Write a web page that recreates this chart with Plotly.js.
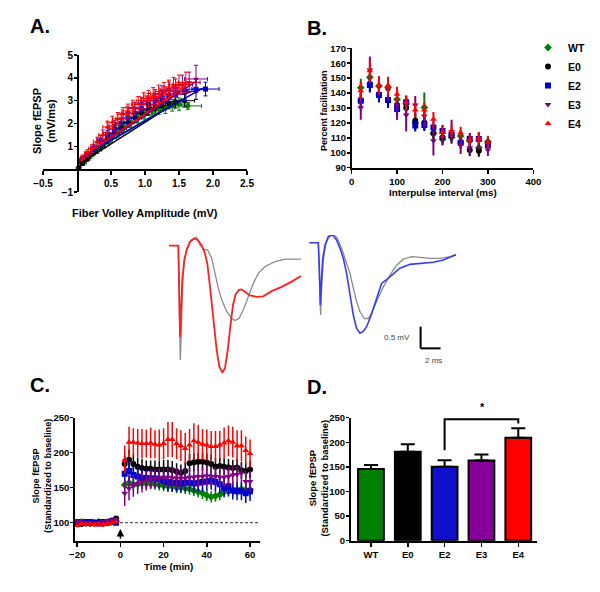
<!DOCTYPE html>
<html>
<head>
<meta charset="utf-8">
<script src="https://cdn.plot.ly/plotly-3.0.1.min.js"></script>
<style>html,body{margin:0;padding:0;background:#fff;}#chart{width:600px;height:592px;}</style>
</head>
<body>
<div id="chart"></div>
<script>
// ---------------- DATA ----------------
var groups = ['WT', 'E0', 'E2', 'E3', 'E4'];

// Panel A: input-output (fiber volley amplitude vs slope)
var aWT_x  = [0.02,0.10,0.20,0.30,0.40,0.50,0.60,0.70,0.80,0.90,1.00,1.10,1.20,1.30,1.40,1.50,1.63];
var aWT_y  = [0.05,0.30,0.60,0.85,1.10,1.35,1.60,1.85,2.05,2.25,2.40,2.55,2.65,2.70,2.80,2.85,2.77];
var aWT_xe = [0.02,0.04,0.05,0.06,0.07,0.08,0.08,0.09,0.10,0.10,0.11,0.12,0.12,0.13,0.14,0.15,0.20];
var aWT_ye = [0.05,0.10,0.12,0.15,0.17,0.18,0.20,0.20,0.22,0.22,0.24,0.25,0.25,0.26,0.26,0.27,0.15];
var aE0_x  = [0.03,0.08,0.15,0.25,0.35,0.45,0.55,0.65,0.75,0.85,0.95,1.05,1.15,1.25,1.35,1.45,1.58];
var aE0_y  = [0.10,0.25,0.45,0.75,1.00,1.30,1.55,1.80,2.05,2.25,2.45,2.60,2.70,2.80,2.90,2.95,3.00];
var aE0_xe = [0.02,0.03,0.04,0.05,0.06,0.07,0.08,0.08,0.09,0.10,0.10,0.11,0.12,0.12,0.13,0.14,0.15];
var aE0_ye = [0.05,0.08,0.10,0.12,0.15,0.17,0.18,0.20,0.20,0.22,0.22,0.24,0.25,0.25,0.26,0.27,0.28];
var aE2_x  = [0.06,0.15,0.25,0.35,0.45,0.55,0.65,0.75,0.85,0.95,1.05,1.15,1.25,1.35,1.45,1.60,1.75,1.89];
var aE2_y  = [0.35,0.60,0.90,1.20,1.50,1.75,2.00,2.25,2.45,2.65,2.85,3.00,3.10,3.20,3.30,3.40,3.50,3.51];
var aE2_xe = [0.03,0.04,0.05,0.06,0.07,0.08,0.08,0.09,0.10,0.10,0.11,0.12,0.12,0.13,0.14,0.15,0.17,0.20];
var aE2_ye = [0.10,0.12,0.15,0.17,0.20,0.22,0.24,0.25,0.27,0.28,0.30,0.30,0.32,0.33,0.35,0.40,0.45,0.30];
var aE3_x  = [0.07,0.15,0.25,0.35,0.45,0.55,0.65,0.75,0.85,0.95,1.05,1.15,1.25,1.35,1.45,1.55,1.65,1.75];
var aE3_y  = [0.40,0.65,0.95,1.30,1.60,1.90,2.20,2.45,2.65,2.85,3.00,3.15,3.30,3.45,3.55,3.70,3.80,3.95];
var aE3_xe = [0.03,0.04,0.05,0.06,0.07,0.08,0.08,0.09,0.10,0.10,0.11,0.12,0.12,0.13,0.14,0.15,0.16,0.17];
var aE3_ye = [0.10,0.12,0.15,0.18,0.20,0.22,0.25,0.27,0.28,0.30,0.32,0.33,0.35,0.37,0.40,0.42,0.45,0.60];
var aE4_x  = [0.08,0.15,0.22,0.30,0.38,0.45,0.52,0.60,0.68,0.75,0.82,0.90,0.98,1.05,1.12,1.20,1.28,1.35,1.42,1.50,1.60];
var aE4_y  = [0.50,0.70,0.90,1.20,1.50,1.85,2.05,2.20,2.40,2.55,2.70,2.85,3.00,3.10,3.20,3.30,3.40,3.50,3.60,3.70,3.80];
var aE4_xe = [0.03,0.04,0.05,0.06,0.06,0.07,0.08,0.08,0.09,0.09,0.10,0.10,0.11,0.11,0.12,0.12,0.13,0.13,0.14,0.14,0.15];
var aE4_ye = [0.12,0.15,0.17,0.20,0.22,0.25,0.27,0.28,0.30,0.30,0.32,0.33,0.35,0.35,0.37,0.38,0.40,0.40,0.42,0.42,0.45];
// linear fits (end points)
var fitWT_x = [0.00, 1.55], fitWT_y = [0.40, 3.10];
var fitE0_x = [0.05, 1.50], fitE0_y = [0.25, 3.00];
var fitE2_x = [0.05, 1.85], fitE2_y = [0.50, 3.55];
var fitE3_x = [0.05, 1.75], fitE3_y = [0.45, 3.85];
var fitE4_x = [0.05, 1.60], fitE4_y = [0.50, 3.65];

// Panel B: paired-pulse facilitation
var ipi  = [20,40,60,80,100,120,140,160,180,200,220,240,260,280,300];
var bWT  = [143.6,150.6,144.7,143.9,135.8,133.0,120.0,130.4,113.0,109.0,110.3,111.2,108.0,103.4,107.4];
var bWTe = [6,5,4,5,4,5,5,10,5,4,4,4,4,4,4];
var bE0  = [135.0,146.0,139.0,135.0,132.0,130.2,121.5,120.2,113.0,110.3,112.0,107.0,101.8,101.4,106.3];
var bE0e = [5,5,4,5,4,5,5,5,5,4,4,4,4,4,4];
var bE2  = [134.9,145.4,138.7,135.4,129.3,133.8,118.2,118.6,117.0,114.6,111.9,106.8,109.2,109.2,105.2];
var bE2e = [5,5,5,5,5,4,4,4,4,4,4,4,4,4,4];
var bE3  = [130.2,155.5,144.3,142.0,132.0,125.3,132.0,124.6,108.1,110.0,114.1,105.2,103.4,108.0,101.8];
var bE3e = [8,9,6,7,10,11,6,7,10,5,8,6,5,6,4];
var bE4  = [141.6,155.0,145.4,145.0,139.2,133.6,128.7,128.7,122.4,113.7,114.6,113.5,108.5,109.7,107.0];
var bE4e = [6,7,6,6,5,5,5,5,5,4,4,4,4,4,4];

// Example field potentials (time in ms, voltage in mV)
var trE4_t   = [0,0.93,1.03,1.10,1.20,1.33,1.53,1.77,2.10,2.53,2.93,3.33,3.60,3.83,4.10,4.43,4.77,5.03,5.33,5.60,5.87,6.13,6.40,6.67,7.00,7.27,7.60,8.10,8.77,9.43,10.27,11.27,12.27,13.20];
var trE4_v   = [0,0,-1.18,-2.10,-1.56,-0.79,-0.33,-0.10,0.09,0.17,0.12,-0.02,-0.18,-0.41,-0.95,-1.72,-2.41,-2.79,-2.93,-2.83,-2.41,-1.87,-1.37,-1.12,-1.02,-1.01,-1.06,-1.15,-1.18,-1.17,-1.05,-0.95,-0.83,-0.70];
var trWTa_t  = [0.93,1.07,1.13,1.23,1.37,1.53,1.80,2.20,2.77,3.10,3.43,3.87,4.27,4.60,4.93,5.27,5.77,6.27,6.60,7.00,7.43,7.93,8.43,8.93,9.60,10.60,11.60,13.20];
var trWTa_v  = [0,-1.56,-2.64,-1.95,-0.79,-0.33,-0.06,0.13,0.19,0.02,-0.08,-0.10,-0.29,-0.64,-0.98,-1.25,-1.52,-1.68,-1.73,-1.68,-1.48,-1.18,-0.87,-0.64,-0.48,-0.37,-0.31,-0.31];
var trE2_t   = [0,0.90,1.00,1.10,1.20,1.33,1.57,1.90,2.33,2.73,3.07,3.40,3.73,4.07,4.40,4.73,5.07,5.40,5.73,6.13,6.57,6.97,7.23,7.73,8.40,9.07,10.07,11.07,12.40,13.40,14.67];
var trE2_v   = [0,0,-0.55,-1.44,-0.94,-0.40,-0.05,0.14,0.18,0.06,-0.13,-0.36,-0.71,-1.17,-1.67,-1.98,-2.09,-2.05,-1.94,-1.71,-1.40,-1.13,-0.94,-0.85,-0.71,-0.59,-0.50,-0.48,-0.45,-0.40,-0.28];
var trWTb_t  = [0.90,1.00,1.13,1.23,1.40,1.67,2.07,2.40,2.80,3.23,3.73,4.07,4.40,4.73,5.07,5.50,5.90,6.23,6.73,7.40,8.07,8.73,9.40,10.23,11.07,12.07,13.07,14.07,14.67];
var trWTb_v  = [0,-0.86,-1.67,-1.09,-0.40,-0.02,0.18,0.22,0.10,-0.13,-0.48,-0.71,-1.05,-1.36,-1.59,-1.75,-1.75,-1.63,-1.36,-1.02,-0.75,-0.52,-0.38,-0.32,-0.34,-0.36,-0.36,-0.32,-0.27];
var scaleBarMs = 2, scaleBarMv = 0.5;

// Panel C: LTP time course
var tBase = [-20,-18,-16,-14,-12,-10,-8,-6,-4,-2];
var tPost = [2,4,6,8,10,12,14,16,18,20,22,24,26,28,30,32,34,36,38,40,42,44,46,48,50,52,54,56,58,60];
var cWT_base = [100,101,100,99,100,101,100,100,101,102];
var cE0_base = [99,98,99,99,100,101,99,101,103,106];
var cE2_base = [101,100,101,101,100,99,101,100,102,100];
var cE3_base = [102,101,100,100,99,100,101,103,104,104];
var cE4_base = [96,99,98,98,97,98,97,99,100,102];
var cBase_err = [3,3,3,3,3,3,3,3,3,3];
var cWT  = [154,157,154,155,156,156,156,155,154,153,152,152,150,150,149,148,146,144,142,139,137,138,140,144,145,146,147,148,147,147];
var cWTe = [8,9,8,8,8,8,8,8,8,8,8,8,8,8,8,8,8,8,8,8,8,8,8,8,8,8,8,8,8,8];
var cE0  = [184,190,184,180,178,177,177,176,176,176,176,175,173,171,174,185,186,187,187,186,184,180,181,180,179,178,179,175,174,176];
var cE0e = [13,15,14,13,13,12,12,13,13,14,14,13,12,12,12,13,13,13,13,13,13,12,12,12,12,12,12,12,12,12];
var cE2  = [170,174,168,166,164,164,163,163,162,160,158,157,157,156,157,157,156,157,158,159,160,158,155,150,152,146,145,145,142,145];
var cE2e = [15,15,14,14,13,13,13,13,13,13,13,13,13,13,13,13,13,13,13,13,13,13,13,13,13,13,13,13,14,14];
var cE3  = [142,149,153,156,158,160,162,163,164,165,165,164,164,163,164,165,165,166,166,167,166,166,165,165,166,168,169,171,159,159];
var cE3e = [18,17,16,15,15,14,14,14,14,14,14,14,14,14,14,14,14,14,14,14,14,14,14,14,14,14,14,14,15,15];
var cE4  = [190,215,215,214,213,213,214,212,211,213,219,219,213,210,206,211,217,215,212,211,209,209,211,214,217,215,210,210,203,199];
var cE4e = [20,22,20,20,21,20,22,20,22,22,25,25,22,22,22,23,25,25,22,22,22,22,20,22,22,22,22,22,20,20];

// Panel D: mean potentiation
var dMean = [145.5,181.0,150.5,163.0,209.5];
var dSem  = [8.3,15.0,12.8,12.3,19.0];
var sigPair = ['E2','E4'];
var sigBracketY = [184,247,247,238];
var sigLabel = '*';

// ---------------- STYLE ----------------
var W = 600, H = 592;
function xd(a, b) { return [a / W, b / W]; }
function yd(top, bot) { return [1 - bot / H, 1 - top / H]; }
var FONT = 'Liberation Sans, Arial, Helvetica, sans-serif';
var colors = {WT:'#008000', E0:'#000000', E2:'#0000cc', E3:'#800080', E4:'#ff0000'};
var symbols = {WT:'diamond', E0:'circle', E2:'square', E3:'triangle-down', E4:'triangle-up'};
var barColors = {WT:'#008000', E0:'#000000', E2:'#1010cc', E3:'#880099', E4:'#ff0000'};

function axisBase(extra) {
  var a = {showline:true, linecolor:'#000', linewidth:1.8, ticks:'outside', ticklen:4, tickwidth:1.5,
    tickcolor:'#000', showgrid:false, zeroline:false, fixedrange:true,
    tickfont:{family:FONT, size:9.5, color:'#000', weight:'bold'}};
  for (var k in extra) a[k] = extra[k];
  return a;
}

var traces = [];
// Panel A
var aData = {
  WT:[aWT_x,aWT_y,aWT_xe,aWT_ye,fitWT_x,fitWT_y], E0:[aE0_x,aE0_y,aE0_xe,aE0_ye,fitE0_x,fitE0_y],
  E2:[aE2_x,aE2_y,aE2_xe,aE2_ye,fitE2_x,fitE2_y], E3:[aE3_x,aE3_y,aE3_xe,aE3_ye,fitE3_x,fitE3_y],
  E4:[aE4_x,aE4_y,aE4_xe,aE4_ye,fitE4_x,fitE4_y]};
groups.forEach(function(g) {
  var d = aData[g];
  traces.push({type:'scatter', mode:'markers', x:d[0], y:d[1], xaxis:'x', yaxis:'y', showlegend:false,
    marker:{color:colors[g], symbol:symbols[g], size:5},
    error_x:{type:'data', array:d[2], color:colors[g], thickness:1, width:2},
    error_y:{type:'data', array:d[3], color:colors[g], thickness:1, width:2}, hoverinfo:'skip'});
});
groups.forEach(function(g) {
  var d = aData[g];
  traces.push({type:'scatter', mode:'lines', x:d[4], y:d[5], xaxis:'x', yaxis:'y', showlegend:false,
    line:{color:colors[g], width:1.5}, hoverinfo:'skip'});
});
// Panel B
var bData = {WT:[bWT,bWTe], E0:[bE0,bE0e], E2:[bE2,bE2e], E3:[bE3,bE3e], E4:[bE4,bE4e]};
groups.forEach(function(g) {
  traces.push({type:'scatter', mode:'markers', name:g, x:ipi, y:bData[g][0], xaxis:'x2', yaxis:'y2',
    marker:{color:colors[g], symbol:symbols[g], size:6},
    error_y:{type:'data', array:bData[g][1], color:colors[g], thickness:2, width:0}});
});
// Traces
traces.push({type:'scatter', mode:'lines', x:trWTa_t, y:trWTa_v, xaxis:'x3', yaxis:'y3', showlegend:false, line:{color:'#8c8c8c', width:1.3}, hoverinfo:'skip'});
traces.push({type:'scatter', mode:'lines', x:trE4_t, y:trE4_v, xaxis:'x3', yaxis:'y3', showlegend:false, line:{color:'#ff2020', width:1.8}, hoverinfo:'skip'});
traces.push({type:'scatter', mode:'lines', x:trWTb_t, y:trWTb_v, xaxis:'x4', yaxis:'y4', showlegend:false, line:{color:'#8c8c8c', width:1.3}, hoverinfo:'skip'});
traces.push({type:'scatter', mode:'lines', x:trE2_t, y:trE2_v, xaxis:'x4', yaxis:'y4', showlegend:false, line:{color:'#3a3aff', width:1.6}, hoverinfo:'skip'});
// Panel C
var cData = {WT:[cWT_base,cWT,cWTe], E0:[cE0_base,cE0,cE0e], E2:[cE2_base,cE2,cE2e], E3:[cE3_base,cE3,cE3e], E4:[cE4_base,cE4,cE4e]};
groups.forEach(function(g) {
  traces.push({type:'scatter', mode:'markers', x:tBase.concat(tPost), y:cData[g][0].concat(cData[g][1]),
    xaxis:'x5', yaxis:'y5', showlegend:false, marker:{color:colors[g], symbol:symbols[g], size:6},
    error_y:{type:'data', array:cBase_err.concat(cData[g][2]), color:colors[g], thickness:1.5, width:0}, hoverinfo:'skip'});
});
// Panel D
traces.push({type:'bar', x:groups, y:dMean, xaxis:'x6', yaxis:'y6', showlegend:false, width:0.7,
  marker:{color:groups.map(function(g){return barColors[g];}), line:{color:'#000', width:2}},
  error_y:{type:'data', array:dSem, arrayminus:dSem.map(function(){return 0;}), symmetric:false, color:'#000', thickness:2, width:7}, hoverinfo:'skip'});
traces.push({type:'scatter', mode:'lines', x:[sigPair[0],sigPair[0],sigPair[1],sigPair[1]], y:sigBracketY,
  xaxis:'x6', yaxis:'y6', showlegend:false, cliponaxis:false, line:{color:'#000', width:2}, hoverinfo:'skip'});

// axes geometry
var aY = yd(55, 192), aX = xd(43, 247);
var aXpos = aY[0] + (0 - (-1)) / 6 * (aY[1] - aY[0]);
var aYpos = aX[0] + (0 - (-0.5)) / 3 * (aX[1] - aX[0]);

function ann(text, px, py, size, opts) {
  var a = {text:text, x:px / W, y:1 - py / H, xref:'paper', yref:'paper', showarrow:false,
    font:{family:FONT, size:size, color:'#000'}, xanchor:'center', yanchor:'middle'};
  for (var k in opts) a[k] = opts[k];
  return a;
}
var annotations = [
  ann('<b>A.</b>', 40, 26, 20, {}),
  ann('<b>B.</b>', 317, 28, 20, {}),
  ann('<b>C.</b>', 40, 385, 20, {}),
  ann('<b>D.</b>', 317, 387, 20, {}),
  ann('<b>Slope fEPSP<br>(mV/ms)</b>', 44, 121, 11, {textangle:-90}),
  ann('<b>Fiber Volley Amplitude (mV)</b>', 145, 213, 11, {}),
  ann('<b>Percent facilitation</b>', 324, 111, 9, {textangle:-90}),
  ann('<b>Interpulse interval (ms)</b>', 443, 193, 9.8, {}),
  ann('<b>Slope fEPSP<br>(Standardized to baseline)</b>', 42, 476, 9.2, {textangle:-90}),
  ann('<b>Time (min)</b>', 168, 566, 9.8, {}),
  ann('<b>Slope fEPSP<br>(Standardized to baseline)</b>', 317.5, 478, 9.4, {textangle:-90}),
  ann('<b>' + sigLabel + '</b>', 482, 407, 11, {}),
  {text:'0.5 mV', x:10.3, y:-2.18, xref:'x4', yref:'y4', showarrow:false, xanchor:'right', yanchor:'middle', font:{family:FONT, size:8, color:'#444'}},
  {text:'2 ms', x:12.4, y:-2.71, xref:'x4', yref:'y4', showarrow:false, xanchor:'center', yanchor:'middle', font:{family:FONT, size:8, color:'#444'}},
  {x:0, y:91, ax:0, ay:75, xref:'x5', yref:'y5', axref:'x5', ayref:'y5', showarrow:true, arrowhead:2, arrowsize:1, arrowwidth:1.5, arrowcolor:'#000', text:''}
];

var sbX = 11.13, sbY = -2.44;
var shapes = [
  {type:'line', xref:'x5 domain', yref:'y5', x0:0, x1:1, y0:100, y1:100, line:{color:'#333', width:1, dash:'3px,2px'}, layer:'below'},
  {type:'line', xref:'x4', yref:'y4', x0:sbX, x1:sbX, y0:sbY, y1:sbY + scaleBarMv, line:{color:'#000', width:2}},
  {type:'line', xref:'x4', yref:'y4', x0:sbX, x1:sbX + scaleBarMs, y0:sbY, y1:sbY, line:{color:'#000', width:2}}
];

var yExtra = {ticklen:3, ticklabelstandoff:-1};
function merge(a, b) { for (var k in b) a[k] = b[k]; return a; }
var fontA = {family:FONT, size:10, color:'#000', weight:'bold'};

var layout = {
  width:W, height:H, margin:{l:0, r:0, t:0, b:0}, paper_bgcolor:'#fff', plot_bgcolor:'rgba(0,0,0,0)',
  font:{family:FONT, color:'#000'}, hovermode:false,
  showlegend:true,
  legend:{x:528 / W, y:1 - 33 / H, xanchor:'left', yanchor:'top', bgcolor:'rgba(0,0,0,0)',
    font:{family:FONT, size:10.5, color:'#000', weight:'bold'}, itemclick:false, itemdoubleclick:false},
  xaxis:axisBase({domain:aX, range:[-0.5, 2.5], anchor:'free', position:aXpos,
    tickvals:[-0.5,0.5,1,1.5,2,2.5], tickformat:'.1f', tickfont:fontA}),
  yaxis:axisBase(merge({domain:aY, range:[-1, 5], anchor:'free', position:aYpos, tickvals:[-1,1,2,3,4,5], tickfont:fontA}, yExtra)),
  xaxis2:axisBase({domain:xd(351.7, 533.3), range:[0, 400], anchor:'y2', tickvals:[0,100,200,300,400]}),
  yaxis2:axisBase(merge({domain:yd(48.3, 167.7), range:[90, 170], anchor:'x2', dtick:10, tick0:90}, yExtra)),
  xaxis3:{domain:xd(160, 305), range:[-0.9, 13.6], visible:false, fixedrange:true, anchor:'y3'},
  yaxis3:{domain:yd(235, 380), range:[-3.102, 0.247], visible:false, fixedrange:true, anchor:'x3'},
  xaxis4:{domain:xd(305, 460), range:[-0.43, 15.07], visible:false, fixedrange:true, anchor:'y4'},
  yaxis4:{domain:yd(235, 380), range:[-3.171, 0.178], visible:false, fixedrange:true, anchor:'x4'},
  xaxis5:axisBase({domain:xd(75, 260), range:[-21.0, 64.6], anchor:'y5', tickvals:[-20,0,20,40,60]}),
  yaxis5:axisBase(merge({domain:yd(417.7, 540.7), range:[74.3, 250], anchor:'x5', tickvals:[100,150,200,250]}, yExtra)),
  xaxis6:axisBase({domain:xd(350.7, 536.7), range:[-0.55, 4.5], anchor:'y6', type:'category'}),
  yaxis6:axisBase(merge({domain:yd(417.7, 540.7), range:[0, 250], anchor:'x6', dtick:50}, yExtra)),
  annotations:annotations,
  shapes:shapes
};

Plotly.newPlot('chart', traces, layout, {staticPlot:true, displayModeBar:false});
</script>
</body>
</html>
